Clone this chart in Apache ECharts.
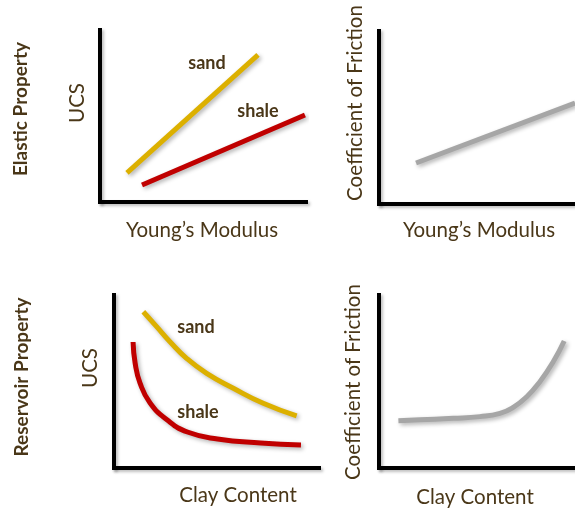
<!DOCTYPE html>
<html><head><meta charset="utf-8">
<script src="https://cdn.jsdelivr.net/npm/echarts@6/dist/echarts.min.js"></script>
<style>html,body{margin:0;padding:0;background:#fff}#c{width:575px;height:508px}</style>
</head><body><div id="c"></div>
<script>
// Top-left: UCS vs Young's Modulus (axis units 0-100)
const tlSand = [[13.1, 16.9], [76.7, 85.5]];
const tlShale = [[20.4, 9.9], [99.5, 50.6]];
// Top-right: Coefficient of Friction vs Young's Modulus
const trLine = [[18.9, 23.7], [100, 58.4]];
// Bottom-left: UCS vs Clay Content
const blSand = [[14.3, 90.3], [20.8, 81.7], [27.3, 73.0], [35.4, 63.4], [45.2, 54.7], [58.2, 46.1], [72.8, 37.4], [89.1, 30.1]];
const blShale = [[9.3, 72.8], [10.3, 60.7], [12.7, 49.1], [17.6, 37.6], [26.0, 27.7], [35.8, 20.8], [50.5, 16.8], [71.6, 14.5], [91.2, 13.3]];
// Bottom-right: Coefficient of Friction vs Clay Content
const brLine = [[9.9, 27.3], [20.9, 27.9], [37.9, 28.7], [51.5, 29.7], [61.7, 31.6], [68.5, 35.1], [75.4, 41.2], [82.1, 49.9], [88.9, 61.4], [94.5, 73.4]];

const rowTitles = ['Elastic Property', 'Reservoir Property'];
const xNames = ["Young’s Modulus", "Young’s Modulus", 'Clay Content', 'Clay Content'];
const yNames = ['UCS', 'Coefficient of Friction', 'UCS', 'Coefficient of Friction'];

const FONT = 'Lato, "Open Sans", sans-serif';
const TXT = '#4a3718';
const SAND = '#dcb000', SHALE = '#c00000', GRAY = '#a6a6a6';

const grids = [
  {left: 100, top: 30, width: 206, height: 172},
  {left: 379, top: 31, width: 196, height: 173},
  {left: 114, top: 295, width: 205, height: 173},
  {left: 379, top: 295, width: 196, height: 173}
];
const axisLine = {show: true, lineStyle: {color: '#000', width: 4, cap: 'square',
  shadowColor: 'rgba(0,0,0,0.25)', shadowBlur: 3, shadowOffsetX: 2, shadowOffsetY: 2}};
const mkAxis = (i) => ({gridIndex: i, type: 'value', min: 0, max: 100,
  axisLine: axisLine, axisTick: {show: false}, axisLabel: {show: false}, splitLine: {show: false}});

function line(i, data, color, smooth) {
  return {type: 'line', xAxisIndex: i, yAxisIndex: i, data: data, smooth: smooth ? 0.5 : false,
    symbol: 'none', silent: true,
    lineStyle: {color: color, width: 5, shadowColor: 'rgba(0,0,0,0.3)', shadowBlur: 4, shadowOffsetX: 2, shadowOffsetY: 2}};
}

function txt(x, y, text, opt) {
  opt = opt || {};
  return {type: 'text', x: x, y: y, rotation: opt.rot || 0,
    style: {text: text, font: (opt.bold ? 'bold ' : '') + (opt.size || 20) + 'px ' + FONT,
      fill: TXT, textAlign: 'center', textVerticalAlign: 'middle'}};
}
const R = Math.PI / 2;

const option = {
  animation: false,
  grid: grids,
  xAxis: [0, 1, 2, 3].map(mkAxis),
  yAxis: [0, 1, 2, 3].map(mkAxis),
  series: [
    line(0, tlSand, SAND), line(0, tlShale, SHALE),
    line(1, trLine, GRAY),
    line(2, blSand, SAND, true), line(2, blShale, SHALE, true),
    line(3, brLine, GRAY, true)
  ],
  graphic: [
    txt(21, 109, rowTitles[0], {bold: true, size: 19, rot: R}),
    txt(22, 377, rowTitles[1], {bold: true, size: 19, rot: R}),
    txt(202, 230, xNames[0], {size: 20.5}),
    txt(479, 230, xNames[1], {size: 20.5}),
    txt(238, 495, xNames[2], {size: 20.5}),
    txt(475, 497, xNames[3], {size: 20.5}),
    txt(77, 103, yNames[0], {size: 20.5, rot: R}),
    txt(355, 103, yNames[1], {size: 20.5, rot: R}),
    txt(90, 368, yNames[2], {size: 20.5, rot: R}),
    txt(353, 382, yNames[3], {size: 20.5, rot: R}),
    txt(207, 63, 'sand', {bold: true, size: 18}),
    txt(258, 111, 'shale', {bold: true, size: 18}),
    txt(196, 327, 'sand', {bold: true, size: 18}),
    txt(198, 412, 'shale', {bold: true, size: 18})
  ]
};
const chart = echarts.init(document.getElementById('c'));
chart.setOption(option);
</script></body></html>
